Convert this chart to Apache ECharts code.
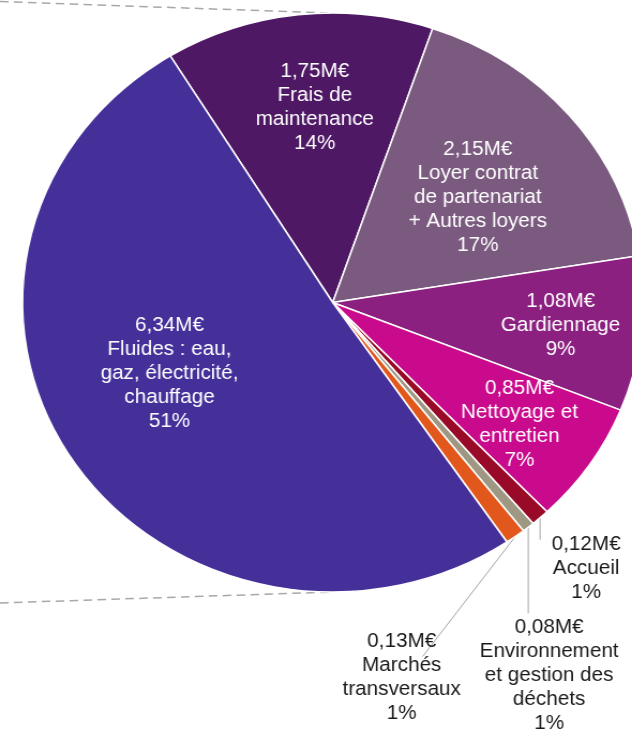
<!DOCTYPE html>
<html>
<head>
<meta charset="utf-8">
<script src="https://cdn.jsdelivr.net/npm/echarts@6/dist/echarts.min.js"></script>
<style>
  html, body { margin: 0; padding: 0; background: #ffffff; overflow: hidden; }
  #chart { width: 590px; height: 731px; transform: scaleX(1.0712); transform-origin: 0 0; }
</style>
</head>
<body>
<div id="chart"></div>
<script>
// ---- DATA (clockwise order, starting with "Frais de maintenance") ----
const categories = [
  'Frais de\nmaintenance',
  'Loyer contrat\nde partenariat\n+ Autres loyers',
  'Gardiennage',
  'Nettoyage et\nentretien',
  'Accueil',
  'Environnement\net gestion des\ndéchets',
  'Marchés\ntransversaux',
  'Fluides : eau,\ngaz, électricité,\nchauffage'
];
const valuesMEUR = [1.75, 2.15, 1.08, 0.85, 0.12, 0.08, 0.13, 6.34];

// ---- STYLE ----
const sliceColors = ['#4E1864', '#7B5A7F', '#8B2080', '#CA0A8C', '#990A28', '#9E9782', '#E2581C', '#45309A'];
const FONT = '"Liberation Sans", Arial, sans-serif';
const CX = 310.6, CY = 302.5, R = 289.5;

// label placement (styling only): inside labels -> distance from centre and angular nudge
const insidePlacement = {
  0: { dist: 196, rot: 1.5 },
  1: { dist: 171, rot: 2.6 },
  2: { dist: 214, rot: 0 },
  3: { dist: 213, rot: 1 },
  7: { dist: 168, rot: 8 }
};
// outside labels -> leader line vector and label offset from the slice edge point
const outsidePlacement = {
  4: { line: [0, 22], label: [43, 15] },
  5: { line: [0, 86], label: [19.5, 88] },
  6: { line: [-86.5, 120], label: [-106, 93] }
};

const data = categories.map((name, i) => {
  const inside = insidePlacement[i] !== undefined;
  return {
    name: name,
    value: valuesMEUR[i],
    itemStyle: { color: sliceColors[i] },
    label: inside ? { position: 'inside', color: '#ffffff' } : { position: 'outside', color: '#1a1a1a' },
    labelLine: { show: !inside }
  };
});

const chart = echarts.init(document.getElementById('chart'), null, { renderer: 'canvas' });
chart.setOption({
  animation: false,
  backgroundColor: '#ffffff',
  graphic: [
    { type: 'line', silent: true, z: -1,
      shape: { x1: 0, y1: CY - R - 11.5, x2: CX - 5, y2: CY - R },
      style: { stroke: '#a8a8a8', lineWidth: 1.5, lineDash: [8, 5] } },
    { type: 'line', silent: true, z: -1,
      shape: { x1: 0, y1: CY + R + 11, x2: CX, y2: CY + R },
      style: { stroke: '#a8a8a8', lineWidth: 1.5, lineDash: [8, 5] } }
  ],
  series: [{
    type: 'pie',
    center: [CX, CY],
    radius: [0, R],
    startAngle: 121.6,
    clockwise: true,
    avoidLabelOverlap: false,
    percentPrecision: 2,
    emphasis: { disabled: true },
    itemStyle: { borderColor: '#ffffff', borderWidth: 1.5 },
    label: {
      fontFamily: FONT,
      fontSize: 19.3,
      lineHeight: 24,
      textBorderWidth: 0,
      formatter: function (p) {
        return p.value.toFixed(2).replace('.', ',') + 'M€\n' + p.name + '\n' + Math.round(p.percent) + '%';
      }
    },
    labelLine: { length: 10, length2: 10, lineStyle: { color: '#a6a6a6', width: 1 } },
    labelLayout: function (params) {
      const i = params.dataIndex;
      const ip = insidePlacement[i];
      if (ip) {
        const r = params.labelRect;
        const lx = r.x + r.width / 2 - CX;
        const ly = r.y + r.height / 2 - CY;
        const len = Math.hypot(lx, ly) || 1;
        const a = ip.rot * Math.PI / 180;
        const rx = (lx * Math.cos(a) - ly * Math.sin(a)) / len * ip.dist;
        const ry = (lx * Math.sin(a) + ly * Math.cos(a)) / len * ip.dist;
        return { x: CX + rx, y: CY + ry, align: 'center', verticalAlign: 'middle' };
      }
      const op = outsidePlacement[i];
      const pts = params.labelLinePoints;
      if (!op || !pts) return {};
      const p0 = pts[0];
      return {
        x: p0[0] + op.label[0],
        y: p0[1] + op.label[1],
        align: 'center',
        verticalAlign: 'top',
        labelLinePoints: [[p0[0], p0[1]], [p0[0] + op.line[0], p0[1] + op.line[1]]]
      };
    },
    data: data
  }]
});
</script>
</body>
</html>
